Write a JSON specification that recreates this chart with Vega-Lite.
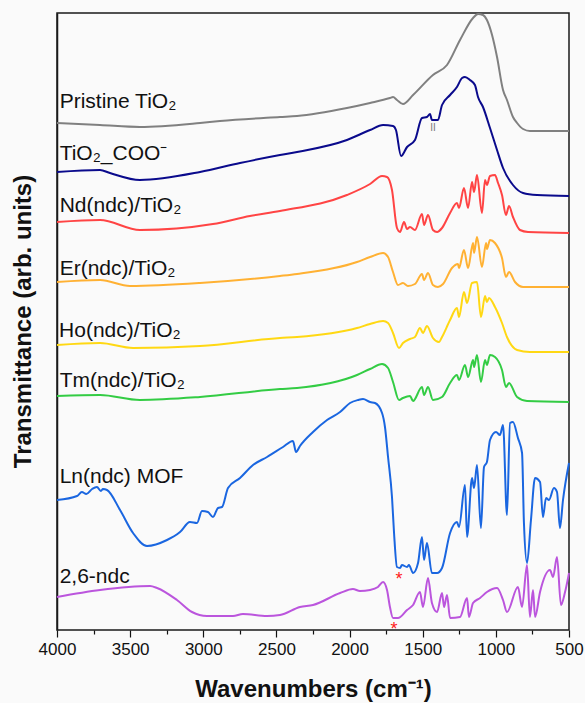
{
  "$schema": "https://vega.github.io/schema/vega-lite/v6.json",
  "width": 512,
  "height": 617,
  "autosize": {"type": "none"},
  "padding": {"left": 57, "top": 13, "right": 16, "bottom": 73},
  "background": "#fafafa",
  "config": {
    "view": {"stroke": "#1a1a1a", "strokeWidth": 1.5},
    "font": "Liberation Sans"
  },
  "datasets": {
    "spectra": [
      {"s":"Pristine","w":4000,"t":507},{"s":"Pristine","w":3706,"t":505},{"s":"Pristine","w":3433,"t":503},{"s":"Pristine","w":3022,"t":507},{"s":"Pristine","w":2886,"t":509},{"s":"Pristine","w":2476,"t":513},{"s":"Pristine","w":2359,"t":514},{"s":"Pristine","w":2018,"t":522},{"s":"Pristine","w":1860,"t":527},{"s":"Pristine","w":1724,"t":532},{"s":"Pristine","w":1703,"t":533},{"s":"Pristine","w":1676,"t":530},{"s":"Pristine","w":1635,"t":526},{"s":"Pristine","w":1566,"t":535},{"s":"Pristine","w":1430,"t":555},{"s":"Pristine","w":1334,"t":565},{"s":"Pristine","w":1245,"t":590},{"s":"Pristine","w":1156,"t":612},{"s":"Pristine","w":1122,"t":616},{"s":"Pristine","w":1088,"t":615},{"s":"Pristine","w":1061,"t":610},{"s":"Pristine","w":1026,"t":595},{"s":"Pristine","w":992,"t":573},{"s":"Pristine","w":951,"t":540},{"s":"Pristine","w":924,"t":530},{"s":"Pristine","w":883,"t":513},{"s":"Pristine","w":855,"t":507},{"s":"Pristine","w":814,"t":501},{"s":"Pristine","w":767,"t":499},{"s":"Pristine","w":500,"t":499},

      {"s":"COO","w":4000,"t":458},{"s":"COO","w":3706,"t":460},{"s":"COO","w":3638,"t":457},{"s":"COO","w":3433,"t":450},{"s":"COO","w":3022,"t":458},{"s":"COO","w":2749,"t":467},{"s":"COO","w":2476,"t":475},{"s":"COO","w":2359,"t":478},{"s":"COO","w":2018,"t":490},{"s":"COO","w":1860,"t":500},{"s":"COO","w":1771,"t":505},{"s":"COO","w":1703,"t":504},{"s":"COO","w":1683,"t":500},{"s":"COO","w":1648,"t":474},{"s":"COO","w":1607,"t":483},{"s":"COO","w":1553,"t":490},{"s":"COO","w":1505,"t":512},{"s":"COO","w":1471,"t":513},{"s":"COO","w":1450,"t":516},{"s":"COO","w":1437,"t":510},{"s":"COO","w":1396,"t":510},{"s":"COO","w":1368,"t":525},{"s":"COO","w":1313,"t":535},{"s":"COO","w":1266,"t":543},{"s":"COO","w":1231,"t":552},{"s":"COO","w":1211,"t":553},{"s":"COO","w":1177,"t":550},{"s":"COO","w":1143,"t":545},{"s":"COO","w":1122,"t":533},{"s":"COO","w":1088,"t":523},{"s":"COO","w":1040,"t":502},{"s":"COO","w":992,"t":480},{"s":"COO","w":951,"t":462},{"s":"COO","w":883,"t":445},{"s":"COO","w":814,"t":437},{"s":"COO","w":719,"t":435},{"s":"COO","w":500,"t":434},

      {"s":"Nd","w":4000,"t":408},{"s":"Nd","w":3706,"t":410},{"s":"Nd","w":3433,"t":400},{"s":"Nd","w":2934,"t":406},{"s":"Nd","w":2681,"t":414},{"s":"Nd","w":2476,"t":419},{"s":"Nd","w":2018,"t":435},{"s":"Nd","w":1860,"t":446},{"s":"Nd","w":1778,"t":454},{"s":"Nd","w":1744,"t":453},{"s":"Nd","w":1710,"t":440},{"s":"Nd","w":1676,"t":402},{"s":"Nd","w":1655,"t":398},{"s":"Nd","w":1628,"t":408},{"s":"Nd","w":1607,"t":401},{"s":"Nd","w":1587,"t":403},{"s":"Nd","w":1553,"t":400},{"s":"Nd","w":1505,"t":416},{"s":"Nd","w":1491,"t":405},{"s":"Nd","w":1464,"t":415},{"s":"Nd","w":1430,"t":400},{"s":"Nd","w":1402,"t":398},{"s":"Nd","w":1368,"t":402},{"s":"Nd","w":1313,"t":417},{"s":"Nd","w":1266,"t":427},{"s":"Nd","w":1252,"t":422},{"s":"Nd","w":1218,"t":442},{"s":"Nd","w":1190,"t":422},{"s":"Nd","w":1163,"t":448},{"s":"Nd","w":1149,"t":438},{"s":"Nd","w":1129,"t":455},{"s":"Nd","w":1095,"t":417},{"s":"Nd","w":1074,"t":450},{"s":"Nd","w":1061,"t":445},{"s":"Nd","w":1040,"t":454},{"s":"Nd","w":1006,"t":455},{"s":"Nd","w":985,"t":447},{"s":"Nd","w":958,"t":435},{"s":"Nd","w":931,"t":415},{"s":"Nd","w":910,"t":424},{"s":"Nd","w":883,"t":413},{"s":"Nd","w":835,"t":400},{"s":"Nd","w":780,"t":398},{"s":"Nd","w":500,"t":397},

      {"s":"Er","w":4000,"t":348},{"s":"Er","w":3706,"t":350},{"s":"Er","w":3501,"t":344},{"s":"Er","w":3022,"t":347},{"s":"Er","w":2476,"t":354},{"s":"Er","w":2359,"t":356},{"s":"Er","w":1949,"t":368},{"s":"Er","w":1860,"t":373},{"s":"Er","w":1771,"t":377},{"s":"Er","w":1737,"t":373},{"s":"Er","w":1703,"t":358},{"s":"Er","w":1669,"t":345},{"s":"Er","w":1635,"t":347},{"s":"Er","w":1601,"t":344},{"s":"Er","w":1553,"t":346},{"s":"Er","w":1505,"t":356},{"s":"Er","w":1491,"t":350},{"s":"Er","w":1464,"t":357},{"s":"Er","w":1430,"t":345},{"s":"Er","w":1396,"t":343},{"s":"Er","w":1361,"t":346},{"s":"Er","w":1300,"t":362},{"s":"Er","w":1259,"t":366},{"s":"Er","w":1252,"t":362},{"s":"Er","w":1218,"t":380},{"s":"Er","w":1190,"t":362},{"s":"Er","w":1156,"t":387},{"s":"Er","w":1149,"t":377},{"s":"Er","w":1129,"t":393},{"s":"Er","w":1095,"t":363},{"s":"Er","w":1067,"t":387},{"s":"Er","w":1061,"t":381},{"s":"Er","w":1040,"t":390},{"s":"Er","w":1006,"t":387},{"s":"Er","w":958,"t":372},{"s":"Er","w":931,"t":353},{"s":"Er","w":910,"t":358},{"s":"Er","w":869,"t":348},{"s":"Er","w":814,"t":343},{"s":"Er","w":500,"t":343},

      {"s":"Ho","w":4000,"t":285},{"s":"Ho","w":3706,"t":287},{"s":"Ho","w":3480,"t":282},{"s":"Ho","w":3022,"t":284},{"s":"Ho","w":2476,"t":292},{"s":"Ho","w":2359,"t":293},{"s":"Ho","w":1949,"t":302},{"s":"Ho","w":1860,"t":306},{"s":"Ho","w":1771,"t":309},{"s":"Ho","w":1737,"t":307},{"s":"Ho","w":1703,"t":297},{"s":"Ho","w":1662,"t":282},{"s":"Ho","w":1635,"t":287},{"s":"Ho","w":1587,"t":291},{"s":"Ho","w":1553,"t":293},{"s":"Ho","w":1519,"t":302},{"s":"Ho","w":1498,"t":297},{"s":"Ho","w":1471,"t":304},{"s":"Ho","w":1430,"t":292},{"s":"Ho","w":1389,"t":288},{"s":"Ho","w":1368,"t":293},{"s":"Ho","w":1313,"t":310},{"s":"Ho","w":1266,"t":322},{"s":"Ho","w":1252,"t":313},{"s":"Ho","w":1218,"t":338},{"s":"Ho","w":1197,"t":327},{"s":"Ho","w":1163,"t":347},{"s":"Ho","w":1129,"t":348},{"s":"Ho","w":1102,"t":313},{"s":"Ho","w":1074,"t":334},{"s":"Ho","w":1061,"t":328},{"s":"Ho","w":1047,"t":332},{"s":"Ho","w":1006,"t":323},{"s":"Ho","w":958,"t":307},{"s":"Ho","w":924,"t":293},{"s":"Ho","w":855,"t":280},{"s":"Ho","w":767,"t":278},{"s":"Ho","w":500,"t":278},

      {"s":"Tm","w":4000,"t":234},{"s":"Tm","w":3706,"t":235},{"s":"Tm","w":3433,"t":230},{"s":"Tm","w":3022,"t":233},{"s":"Tm","w":2476,"t":241},{"s":"Tm","w":2359,"t":242},{"s":"Tm","w":1949,"t":255},{"s":"Tm","w":1860,"t":261},{"s":"Tm","w":1778,"t":266},{"s":"Tm","w":1737,"t":262},{"s":"Tm","w":1703,"t":248},{"s":"Tm","w":1662,"t":230},{"s":"Tm","w":1635,"t":232},{"s":"Tm","w":1587,"t":234},{"s":"Tm","w":1566,"t":229},{"s":"Tm","w":1505,"t":243},{"s":"Tm","w":1491,"t":235},{"s":"Tm","w":1464,"t":243},{"s":"Tm","w":1430,"t":230},{"s":"Tm","w":1368,"t":233},{"s":"Tm","w":1313,"t":247},{"s":"Tm","w":1266,"t":255},{"s":"Tm","w":1252,"t":250},{"s":"Tm","w":1211,"t":265},{"s":"Tm","w":1190,"t":253},{"s":"Tm","w":1156,"t":270},{"s":"Tm","w":1149,"t":263},{"s":"Tm","w":1129,"t":275},{"s":"Tm","w":1102,"t":248},{"s":"Tm","w":1074,"t":270},{"s":"Tm","w":1061,"t":265},{"s":"Tm","w":1040,"t":275},{"s":"Tm","w":1006,"t":273},{"s":"Tm","w":958,"t":260},{"s":"Tm","w":931,"t":243},{"s":"Tm","w":910,"t":247},{"s":"Tm","w":855,"t":233},{"s":"Tm","w":787,"t":229},{"s":"Tm","w":500,"t":228},

      {"s":"MOF","w":4000,"t":130},{"s":"MOF","w":3863,"t":134},{"s":"MOF","w":3830,"t":138},{"s":"MOF","w":3800,"t":136},{"s":"MOF","w":3760,"t":141},{"s":"MOF","w":3727,"t":143},{"s":"MOF","w":3700,"t":139},{"s":"MOF","w":3686,"t":141},{"s":"MOF","w":3658,"t":140},{"s":"MOF","w":3569,"t":120},{"s":"MOF","w":3480,"t":97},{"s":"MOF","w":3385,"t":84},{"s":"MOF","w":3248,"t":90},{"s":"MOF","w":3159,"t":98},{"s":"MOF","w":3091,"t":108},{"s":"MOF","w":3043,"t":107},{"s":"MOF","w":3009,"t":119},{"s":"MOF","w":2968,"t":118},{"s":"MOF","w":2934,"t":113},{"s":"MOF","w":2899,"t":122},{"s":"MOF","w":2872,"t":123},{"s":"MOF","w":2831,"t":142},{"s":"MOF","w":2749,"t":152},{"s":"MOF","w":2660,"t":165},{"s":"MOF","w":2564,"t":173},{"s":"MOF","w":2455,"t":183},{"s":"MOF","w":2387,"t":189},{"s":"MOF","w":2366,"t":178},{"s":"MOF","w":2339,"t":184},{"s":"MOF","w":2250,"t":198},{"s":"MOF","w":2154,"t":210},{"s":"MOF","w":2065,"t":218},{"s":"MOF","w":1997,"t":227},{"s":"MOF","w":1942,"t":230},{"s":"MOF","w":1908,"t":231},{"s":"MOF","w":1860,"t":228},{"s":"MOF","w":1826,"t":227},{"s":"MOF","w":1778,"t":217},{"s":"MOF","w":1758,"t":203},{"s":"MOF","w":1737,"t":173},{"s":"MOF","w":1710,"t":133},{"s":"MOF","w":1696,"t":97},{"s":"MOF","w":1676,"t":63},{"s":"MOF","w":1655,"t":62},{"s":"MOF","w":1642,"t":65},{"s":"MOF","w":1607,"t":63},{"s":"MOF","w":1594,"t":65},{"s":"MOF","w":1566,"t":57},{"s":"MOF","w":1532,"t":67},{"s":"MOF","w":1505,"t":93},{"s":"MOF","w":1491,"t":70},{"s":"MOF","w":1471,"t":87},{"s":"MOF","w":1437,"t":57},{"s":"MOF","w":1402,"t":57},{"s":"MOF","w":1368,"t":62},{"s":"MOF","w":1313,"t":97},{"s":"MOF","w":1266,"t":108},{"s":"MOF","w":1252,"t":103},{"s":"MOF","w":1211,"t":145},{"s":"MOF","w":1197,"t":93},{"s":"MOF","w":1163,"t":152},{"s":"MOF","w":1149,"t":142},{"s":"MOF","w":1129,"t":165},{"s":"MOF","w":1102,"t":102},{"s":"MOF","w":1081,"t":163},{"s":"MOF","w":1061,"t":168},{"s":"MOF","w":1040,"t":190},{"s":"MOF","w":999,"t":198},{"s":"MOF","w":972,"t":195},{"s":"MOF","w":951,"t":205},{"s":"MOF","w":924,"t":115},{"s":"MOF","w":903,"t":207},{"s":"MOF","w":883,"t":208},{"s":"MOF","w":849,"t":192},{"s":"MOF","w":821,"t":177},{"s":"MOF","w":808,"t":107},{"s":"MOF","w":787,"t":67},{"s":"MOF","w":760,"t":110},{"s":"MOF","w":732,"t":152},{"s":"MOF","w":698,"t":148},{"s":"MOF","w":678,"t":113},{"s":"MOF","w":657,"t":132},{"s":"MOF","w":637,"t":130},{"s":"MOF","w":603,"t":142},{"s":"MOF","w":582,"t":138},{"s":"MOF","w":562,"t":102},{"s":"MOF","w":541,"t":130},{"s":"MOF","w":500,"t":167},

      {"s":"ndc","w":4000,"t":33},{"s":"ndc","w":3706,"t":40},{"s":"ndc","w":3364,"t":44},{"s":"ndc","w":3316,"t":42},{"s":"ndc","w":3180,"t":30},{"s":"ndc","w":3077,"t":18},{"s":"ndc","w":2975,"t":14},{"s":"ndc","w":2797,"t":14},{"s":"ndc","w":2729,"t":16},{"s":"ndc","w":2564,"t":14},{"s":"ndc","w":2476,"t":15},{"s":"ndc","w":2339,"t":23},{"s":"ndc","w":2250,"t":25},{"s":"ndc","w":2065,"t":37},{"s":"ndc","w":1977,"t":41},{"s":"ndc","w":1929,"t":39},{"s":"ndc","w":1860,"t":40},{"s":"ndc","w":1806,"t":43},{"s":"ndc","w":1771,"t":48},{"s":"ndc","w":1744,"t":40},{"s":"ndc","w":1724,"t":23},{"s":"ndc","w":1703,"t":12},{"s":"ndc","w":1669,"t":12},{"s":"ndc","w":1607,"t":20},{"s":"ndc","w":1566,"t":25},{"s":"ndc","w":1519,"t":38},{"s":"ndc","w":1498,"t":23},{"s":"ndc","w":1464,"t":52},{"s":"ndc","w":1437,"t":27},{"s":"ndc","w":1402,"t":18},{"s":"ndc","w":1368,"t":37},{"s":"ndc","w":1354,"t":23},{"s":"ndc","w":1334,"t":35},{"s":"ndc","w":1313,"t":12},{"s":"ndc","w":1245,"t":13},{"s":"ndc","w":1197,"t":32},{"s":"ndc","w":1184,"t":13},{"s":"ndc","w":1156,"t":27},{"s":"ndc","w":1108,"t":32},{"s":"ndc","w":1061,"t":38},{"s":"ndc","w":992,"t":42},{"s":"ndc","w":951,"t":30},{"s":"ndc","w":924,"t":18},{"s":"ndc","w":849,"t":43},{"s":"ndc","w":821,"t":23},{"s":"ndc","w":787,"t":65},{"s":"ndc","w":767,"t":13},{"s":"ndc","w":746,"t":40},{"s":"ndc","w":732,"t":13},{"s":"ndc","w":698,"t":38},{"s":"ndc","w":630,"t":60},{"s":"ndc","w":609,"t":53},{"s":"ndc","w":582,"t":73},{"s":"ndc","w":555,"t":25},{"s":"ndc","w":527,"t":38},{"s":"ndc","w":500,"t":57}
    ],
    "labels": [
      {"label":"Pristine TiO₂","w":3982,"t":522},
      {"label":"TiO₂_COO⁻","w":3982,"t":470},
      {"label":"Nd(ndc)/TiO₂","w":3982,"t":418},
      {"label":"Er(ndc)/TiO₂","w":3982,"t":355},
      {"label":"Ho(ndc)/TiO₂","w":3986,"t":293},
      {"label":"Tm(ndc)/TiO₂","w":3982,"t":243},
      {"label":"Ln(ndc) MOF","w":3982,"t":147},
      {"label":"2,6-ndc","w":3982,"t":47}
    ],
    "stars": [
      {"w":1662,"t":55},
      {"w":1696,"t":5}
    ],
    "notes": [
      {"w":1430,"t":502,"label":"II"}
    ]
  },
  "resolve": {"axis": {"x": "independent"}},
  "layer": [
    {
      "data": {"name": "spectra"},
      "mark": {"type": "line", "strokeWidth": 2, "interpolate": "monotone"},
      "encoding": {
        "x": {"field": "w", "type": "quantitative",
          "scale": {"domain": [4000, 500], "nice": false, "zero": false},
          "axis": {"orient": "bottom", "values": [4000, 3500, 3000, 2500, 2000, 1500, 1000, 500], "format": "d",
            "tickSize": 7, "tickWidth": 1.2, "tickColor": "#111", "domain": false, "grid": false,
            "labelFontSize": 17, "labelColor": "#111", "labelPadding": 4, "labelFlush": false, "labelOverlap": false,
            "title": "Wavenumbers (cm⁻¹)", "titleFontSize": 24, "titleFontWeight": "bold", "titleColor": "#111", "titlePadding": 20}},
        "y": {"field": "t", "type": "quantitative",
          "scale": {"domain": [0, 617], "nice": false, "zero": false},
          "axis": {"ticks": false, "labels": false, "domain": true, "domainColor": "#1a1a1a", "domainWidth": 1.5, "grid": false,
            "title": "Transmittance (arb. units)", "titleFontSize": 24, "titleFontWeight": "bold", "titleColor": "#111",
            "titleX": -34, "titleY": 308, "titleAngle": 270, "titleAlign": "center", "titleBaseline": "middle"}},
        "color": {"field": "s", "type": "nominal",
          "scale": {"domain": ["Pristine", "COO", "Nd", "Er", "Ho", "Tm", "MOF", "ndc"],
            "range": ["#808080", "#0a0a8c", "#ff4444", "#ffb133", "#ffd813", "#33cc44", "#1a66e0", "#bb55dd"]},
          "legend": null}
      }
    },
    {
      "data": {"name": "labels"},
      "mark": {"type": "text", "align": "left", "baseline": "alphabetic", "fontSize": 21, "color": "#111"},
      "encoding": {
        "x": {"field": "w", "type": "quantitative", "axis": null},
        "y": {"field": "t", "type": "quantitative"},
        "text": {"field": "label"}
      }
    },
    {
      "data": {"name": "stars"},
      "mark": {"type": "text", "align": "center", "baseline": "middle", "fontSize": 18, "color": "#ff2020", "dy": 5, "text": "*"},
      "encoding": {
        "x": {"field": "w", "type": "quantitative",
          "axis": {"orient": "bottom", "values": [3750, 3250, 2750, 2250, 1750, 1250, 750],
            "tickSize": 4, "tickWidth": 1.2, "tickColor": "#111", "labels": false, "domain": false, "grid": false, "title": null}},
        "y": {"field": "t", "type": "quantitative"}
      }
    },
    {
      "data": {"name": "notes"},
      "mark": {"type": "text", "align": "center", "baseline": "middle", "fontSize": 10, "color": "#777"},
      "encoding": {
        "x": {"field": "w", "type": "quantitative", "axis": null},
        "y": {"field": "t", "type": "quantitative"},
        "text": {"field": "label"}
      }
    }
  ]
}
